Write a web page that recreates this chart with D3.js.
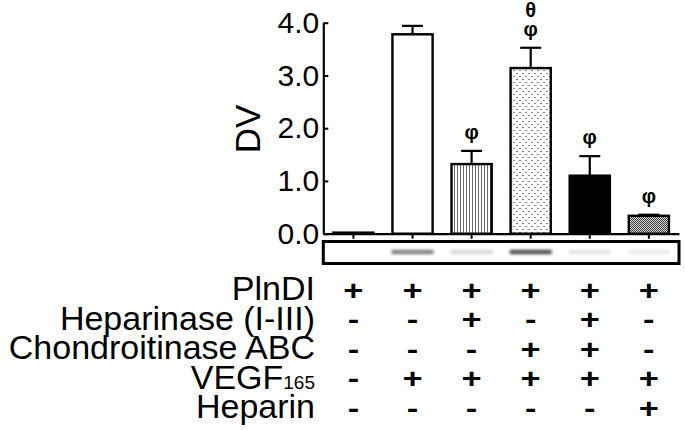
<!DOCTYPE html>
<html>
<head>
<meta charset="utf-8">
<script src="https://cdn.jsdelivr.net/npm/d3@7"></script>
<style>
  html, body { margin: 0; padding: 0; background: #fff; }
  svg { display: block; }
  text { font-family: "Liberation Sans", Arial, sans-serif; }
</style>
</head>
<body>
<svg id="chart" width="685" height="430"></svg>
<script>
// ---- data ----
const groups = ["G1", "G2", "G3", "G4", "G5", "G6"];
const dvMeans = [0.02, 3.78, 1.32, 3.14, 1.10, 0.34];
const dvErrors = [0, 0.16, 0.25, 0.385, 0.37, 0.02];
const significance = [[], [], ["φ"], ["φ", "θ"], ["φ"], ["φ"]];
const blotIntensity = [0, 0.5, 0.15, 0.7, 0.1, 0.08];
const yTicks = [0, 1, 2, 3, 4];
const treatments = ["PlnDI", "Heparinase (I-III)", "Chondroitinase ABC", "VEGF", "Heparin"];
const treatmentSub = ["", "", "", "165", ""];
const treatmentSigns = [
  ["+", "+", "+", "+", "+", "+"],
  ["-", "-", "+", "-", "+", "-"],
  ["-", "-", "-", "+", "+", "-"],
  ["-", "+", "+", "+", "+", "+"],
  ["-", "-", "-", "-", "-", "+"]
];

// ---- style ----
const barFills = ["#fff", "#fff", "url(#vstripe)", "url(#dots)", "#000", "url(#dense)"];

const svg = d3.select("#chart");
const defs = svg.append("defs");

const p1 = defs.append("pattern").attr("id", "vstripe").attr("patternUnits", "userSpaceOnUse")
  .attr("width", 3).attr("height", 4);
p1.append("rect").attr("width", 3).attr("height", 4).attr("fill", "#fff");
p1.append("rect").attr("x", 1).attr("width", 1).attr("height", 4).attr("fill", "#6a6a6a");

const p2 = defs.append("pattern").attr("id", "dots").attr("patternUnits", "userSpaceOnUse")
  .attr("width", 6).attr("height", 6);
p2.append("rect").attr("width", 6).attr("height", 6).attr("fill", "#fff");
p2.append("rect").attr("x", 0).attr("y", 1).attr("width", 2).attr("height", 1).attr("fill", "#888");
p2.append("rect").attr("x", 3).attr("y", 4).attr("width", 2).attr("height", 1).attr("fill", "#888");

const p3 = defs.append("pattern").attr("id", "dense").attr("patternUnits", "userSpaceOnUse")
  .attr("width", 2).attr("height", 2);
p3.append("rect").attr("width", 2).attr("height", 2).attr("fill", "#d0d0d0");
p3.append("rect").attr("x", 0).attr("y", 0).attr("width", 1).attr("height", 1).attr("fill", "#444");
p3.append("rect").attr("x", 1).attr("y", 1).attr("width", 1).attr("height", 1).attr("fill", "#444");

defs.append("filter").attr("id", "blur").attr("x", "-30%").attr("y", "-100%").attr("width", "160%").attr("height", "300%")
  .append("feGaussianBlur").attr("stdDeviation", "1.6 1.1");

// ---- scales ----
const x = d3.scaleBand().domain(groups).range([323.3, 679]).paddingInner(0.32).paddingOuter(0.17);
const y = d3.scaleLinear().domain([0, 4]).range([233.7, 22.7]);

// ---- bars ----
svg.append("g").selectAll("rect").data(groups).join("rect")
  .attr("x", d => x(d))
  .attr("y", (d, i) => y(dvMeans[i]))
  .attr("width", x.bandwidth())
  .attr("height", (d, i) => y(0) - y(dvMeans[i]))
  .attr("fill", (d, i) => barFills[i])
  .attr("stroke", "#000").attr("stroke-width", 2.4);

// ---- error bars ----
const eg = svg.append("g").attr("stroke", "#000").attr("stroke-width", 2.2);
groups.forEach((g, i) => {
  if (dvErrors[i] <= 0) return;
  const cx = x(g) + x.bandwidth() / 2;
  eg.append("line").attr("x1", cx).attr("x2", cx).attr("y1", y(dvMeans[i])).attr("y2", y(dvMeans[i] + dvErrors[i]));
  eg.append("line").attr("x1", cx - 10.5).attr("x2", cx + 10.5).attr("y1", y(dvMeans[i] + dvErrors[i])).attr("y2", y(dvMeans[i] + dvErrors[i]));
});

// ---- significance marks ----
groups.forEach((g, i) => {
  const cx = x(g) + x.bandwidth() / 2;
  significance[i].forEach((s, k) => {
    svg.append("text").attr("x", cx).attr("y", y(dvMeans[i] + dvErrors[i]) - 12 - k * 19)
      .attr("text-anchor", "middle").attr("font-size", 20).attr("font-weight", "bold")
      .attr("font-family", "Liberation Serif, Times New Roman, serif").text(s);
  });
});

// ---- axes ----
const yAxis = d3.axisLeft(y).tickValues(yTicks).tickFormat(d3.format(".1f"))
  .tickSizeInner(-5).tickSizeOuter(0).tickPadding(4);
const yg = svg.append("g").attr("transform", "translate(323.3,0)").call(yAxis);
yg.select(".domain").attr("stroke-width", 2.2);
yg.selectAll(".tick line").attr("stroke-width", 2);
yg.selectAll(".tick text").attr("font-size", 30).attr("font-family", "Liberation Sans, Arial, sans-serif").attr("fill", "#000");

const xAxis = d3.axisBottom(x).tickSizeInner(5).tickSizeOuter(0).tickFormat("");
const xg = svg.append("g").attr("transform", "translate(0," + y(0) + ")").call(xAxis);
xg.select(".domain").attr("stroke-width", 2.2);
xg.selectAll(".tick line").attr("stroke-width", 2);

svg.append("text").attr("transform", "translate(260,129) rotate(-90)")
  .attr("text-anchor", "middle").attr("font-size", 35).text("DV");

// ---- blot strip ----
const blotY0 = 241.5, blotY1 = 263.5;
const bg = svg.append("g");
groups.forEach((g, i) => {
  if (blotIntensity[i] <= 0) return;
  const cx = x(g) + x.bandwidth() / 2;
  bg.append("rect").attr("x", cx - 21).attr("y", 249.5)
    .attr("width", 42).attr("height", 5)
    .attr("fill", "#222").attr("opacity", blotIntensity[i]).attr("filter", "url(#blur)");
});
svg.append("rect").attr("x", 323.3).attr("y", blotY0).attr("width", 679 - 323.3).attr("height", blotY1 - blotY0)
  .attr("fill", "none").attr("stroke", "#000").attr("stroke-width", 3);

// ---- treatment table ----
const rowY = d3.scalePoint().domain(treatments).range([300, 418]);
treatments.forEach((t, r) => {
  const lab = svg.append("text").attr("x", 315).attr("y", rowY(t)).attr("text-anchor", "end")
    .attr("font-size", 34).text(t);
  if (treatmentSub[r]) lab.append("tspan").attr("font-size", 19).text(treatmentSub[r]);
  treatmentSigns[r].forEach((s, i) => {
    const cx = x(groups[i]) + x.bandwidth() / 2;
    svg.append("text")
      .attr("transform", "translate(" + cx + "," + (rowY(t) - 0.5) + ") scale(1.15,0.9)")
      .attr("text-anchor", "middle").attr("font-size", 30).attr("font-weight", "bold").text(s);
  });
});
</script>
</body>
</html>
